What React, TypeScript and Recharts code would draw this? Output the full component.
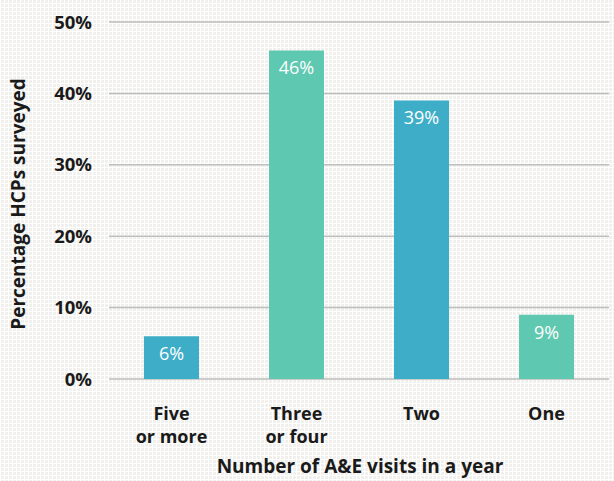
import { BarChart, Bar, XAxis, YAxis, CartesianGrid, Cell, LabelList } from "recharts";

document.body.style.margin = "0";

const CATEGORIES = ["Five\nor more", "Three\nor four", "Two", "One"];
const VALUES = [6, 46, 39, 9];
const COLORS = ["#3eaec8", "#5ec8b0", "#3eaec8", "#5ec8b0"];
const Y_TICKS = [0, 10, 20, 30, 40, 50];

const data = CATEGORIES.map((name, i) => ({ name, value: VALUES[i] }));

const FONT = "'Open Sans', 'Noto Sans', sans-serif";

function CatTick({ x, y, payload }: any) {
    const lines = String(payload.value).split("\n");
    return (
        <g>
            {lines.map((l, i) => (
                <text key={i} x={x} y={y + 33 + i * 23} textAnchor="middle" fontFamily={FONT} fontWeight={700}
                    fontSize={18} fill="#1a1a1a">
                    {l}
                </text>
            ))}
        </g>
    );
}

const bg = {
    backgroundColor: "#ffffff",
    backgroundImage:
        "linear-gradient(90deg, rgba(255,255,255,1) 1px, transparent 1px), linear-gradient(0deg, rgba(255,255,255,1) 1px, #f1f0ec 1px)",
    backgroundSize: "4px 4px",
};

export default function App() {
    return (
        <div style={{ width: 614, height: 481, position: "relative", ...bg }}>
            <BarChart width={614} height={481} data={data} margin={{ top: 22, right: 5, left: 29, bottom: 0 }}>
                <CartesianGrid vertical={false} stroke="#bdbdbd" strokeWidth={1.5} />
                <XAxis dataKey="name" axisLine={false} tickLine={false} tick={<CatTick />} interval={0} height={102} />
                <YAxis domain={[0, 50]} ticks={Y_TICKS} axisLine={false} tickLine={false} width={80}
                    tickFormatter={(v) => `${v}%`}
                    tick={{ fontFamily: FONT, fontWeight: 700, fontSize: 18.5, fill: "#1a1a1a", dx: -9 }} />
                <Bar dataKey="value" barSize={55} isAnimationActive={false}>
                    {data.map((d, i) => (
                        <Cell key={d.name} fill={COLORS[i]} />
                    ))}
                    <LabelList dataKey="value" position="insideTop" offset={11}
                        formatter={(v: any) => `${v}%`}
                        style={{ fontFamily: FONT, fontSize: 18, fill: "#ffffff", fontWeight: 400 }} />
                </Bar>
                <text x={18} y={204} transform="rotate(-90 18 204)" textAnchor="middle" dominantBaseline="central"
                    fontFamily={FONT} fontWeight={700} fontSize={19} fill="#1a1a1a">
                    Percentage HCPs surveyed
                </text>
                <text x={360} y={466} textAnchor="middle" dominantBaseline="central"
                    fontFamily={FONT} fontWeight={700} fontSize={19} fill="#1a1a1a">
                    Number of A&amp;E visits in a year
                </text>
            </BarChart>
        </div>
    );
}
